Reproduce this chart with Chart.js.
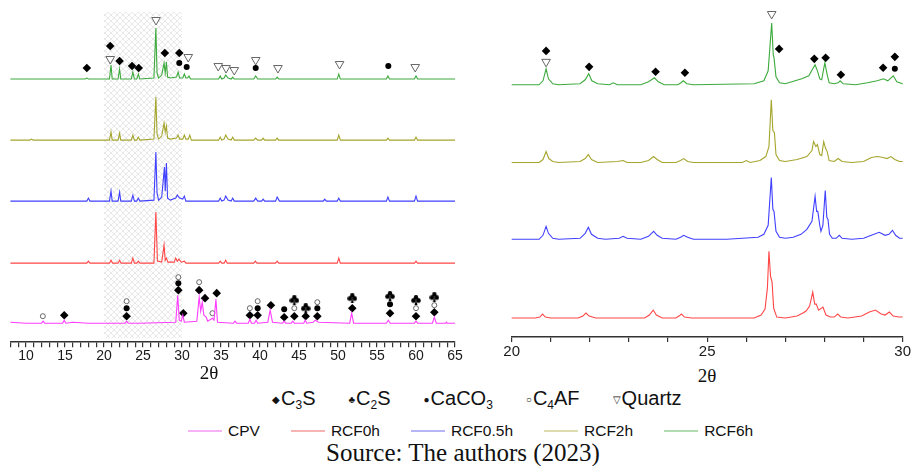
<!DOCTYPE html>
<html>
<head>
<meta charset="utf-8">
<script src="https://cdn.jsdelivr.net/npm/chart.js@4.4.1/dist/chart.umd.min.js"></script>
<style>
    body { margin: 0; background: #fff; }
    #page { position: relative; width: 912px; height: 466px; overflow: hidden; font-family: "Liberation Sans", Arial, sans-serif; color: #111; }
    canvas { position: absolute; top: 0; }
    #left { left: 0; }
    #right { left: 490px; }
    .axt { position: absolute; font-family: "Liberation Serif", "Times New Roman", serif; font-size: 19px; transform: translate(-50%, -50%); }
    #phases { position: absolute; left: 272px; top: 387px; font-size: 20px; display: flex; gap: 33px; white-space: nowrap; }
    #phases sub { font-size: 12px; vertical-align: -4px; }
    #phases .sym { font-size: 10px; margin-right: 1px; vertical-align: 2px; }
    #series { position: absolute; left: 188px; top: 422px; font-size: 15.5px; display: flex; gap: 31px; white-space: nowrap; }
    #series span { display: flex; align-items: center; }
    #series i { display: inline-block; width: 34px; height: 2px; margin-right: 6px; }
    #source { position: absolute; left: 0; width: 926px; text-align: center; top: 439px; font-family: "Liberation Serif", "Times New Roman", serif; font-size: 25px; }
</style>
</head>
<body>
<div id="page">
    <canvas id="left" width="470" height="366"></canvas>
    <canvas id="right" width="422" height="362"></canvas>
    <div class="axt" style="left:209px; top:373px;">2θ</div>
    <div class="axt" style="left:707px; top:376px;">2θ</div>
    <div id="phases">
        <span><span class="sym">◆</span>C<sub>3</sub>S</span>
        <span><span class="sym">♣</span>C<sub>2</sub>S</span>
        <span><span class="sym">●</span>CaCO<sub>3</sub></span>
        <span><span class="sym">○</span>C<sub>4</sub>AF</span>
        <span><span class="sym">▽</span>Quartz</span>
    </div>
    <div id="series"></div>
    <div id="source">Source: The authors (2023)</div>
</div>
<script>
// ---- tick labels ----
const leftTickLabels = [10, 15, 20, 25, 30, 35, 40, 45, 50, 55, 60, 65];
const rightTickLabels = [20, 25, 30];
const highlightRange = [20, 30];

// ---- series (2θ, intensity above own baseline, a.u.) ----
const seriesNames = ["CPV", "RCF0h", "RCF0.5h", "RCF2h", "RCF6h"];
const seriesColors = ["#ff3cff", "#ff4646", "#4040ff", "#a5a52e", "#3caa3c"];
const legendColors = ["#f7b2f7", "#f7b4b4", "#b6b6f7", "#dcdcae", "#b0dcb0"];
const leftOffsets = [19, 79, 141, 202, 263];
const rightOffsets = [19, 98, 175, 253];   // RCF0h .. RCF6h

const cpvWide = [[8,1],[10,0],[12.0,0],[12.2,2],[12.4,0],[14.7,0],[14.9,3],[15.1,0],[16,1],[18,0],[20,0],[22.7,0],[22.9,2],[23.1,0],[24.5,0],[29.2,1],[29.45,28],[29.65,3],[29.9,2],[30.1,8],[30.3,1],[31.9,2],[32.2,26],[32.4,12],[32.6,21],[32.8,8],[33.1,6],[33.3,2],[33.9,5],[34.1,3],[34.35,24],[34.55,1],[36.6,0],[36.8,2],[37,0],[38.5,0],[38.7,4],[38.9,0],[39.3,0],[39.5,3],[39.7,0],[41.0,1],[41.3,13],[41.6,1],[42.9,0],[43.1,2],[43.3,0],[44.0,0],[44.2,2],[44.4,0],[45.6,0],[45.8,3],[46.0,0],[46.8,1],[47.1,3],[47.5,1],[51.5,0],[51.75,10],[52.0,0],[56.2,0],[56.45,3],[56.7,0],[59.8,0],[60,2],[60.2,0],[62.1,0],[62.35,6],[62.6,0],[63.8,0],[63.9,1],[64,0],[65,0]];
const rcf0hWide = [[8,0],[17.8,0],[18.0,2],[18.2,0],[20.7,0],[20.9,3],[21.1,0],[21.8,0],[22.0,3],[22.2,0],[23.5,0],[23.7,5],[23.9,0],[24.2,0],[24.4,2],[24.6,0],[26.4,0],[26.65,51],[26.85,2],[27.4,1],[27.7,18],[27.85,3],[28.0,5],[28.2,1],[29.0,1],[29.2,5],[29.4,2],[29.6,4],[29.9,1],[30.3,2],[30.5,0],[34.7,0],[34.9,2],[35.1,0],[35.4,0],[35.6,3],[35.8,0],[39.2,0],[39.4,2],[39.6,0],[42.0,0],[42.2,2],[42.4,0],[49.9,0],[50.1,5],[50.3,0],[59.8,0],[60,2],[60.2,0],[65,0]];
const rcf05hWide = [[8,0],[17.8,0],[18.0,3],[18.2,0],[20.7,0],[20.9,10],[21.05,0],[21.8,0],[22.0,9],[22.15,0],[23.5,0],[23.7,6],[23.9,0],[24.2,0],[24.4,3],[24.6,0],[26.4,1],[26.65,49],[26.8,8],[27.0,1],[27.4,4],[27.75,34],[27.85,10],[28.0,38],[28.15,3],[28.5,1],[29.2,3],[29.4,6],[29.7,3],[30.1,2],[30.3,5],[30.5,0],[34.7,0],[34.9,3],[35.1,0],[35.4,1],[35.6,5],[35.9,1],[36.3,0],[36.5,3],[36.7,0],[39.2,0],[39.45,3],[39.7,0],[40.2,0],[40.4,2],[40.6,0],[42.0,0],[42.2,4],[42.5,0],[48.1,0],[48.3,2],[48.5,0],[49.9,0],[50.1,3],[50.3,0],[56.2,0],[56.4,4],[56.6,0],[59.8,0],[60,5],[60.2,0],[65,0]];
const rcf2hWide = [[8,0],[10.5,0],[10.7,1],[10.9,0],[20.7,0],[20.9,8],[21.05,0],[21.8,0],[22.0,7],[22.15,0],[23.5,0],[23.7,5],[23.9,0],[24.2,0],[24.4,3],[24.6,0],[26.4,1],[26.65,43],[26.8,6],[27.0,1],[27.4,4],[27.7,17],[27.85,8],[28.0,14],[28.15,2],[28.5,1],[29.3,2],[29.5,5],[29.7,1],[30.1,1],[30.3,5],[30.5,1],[30.8,1],[31.0,5],[31.2,0],[34.7,0],[34.9,3],[35.1,0],[35.4,1],[35.6,5],[35.9,1],[36.3,0],[36.5,3],[36.7,0],[39.2,0],[39.45,2],[39.7,0],[40.2,0],[40.4,2],[40.6,0],[42.0,0],[42.2,2],[42.4,0],[49.9,0],[50.1,5],[50.3,0],[56.2,0],[56.4,2],[56.6,0],[59.8,0],[60,3],[60.2,0],[65,0]];
const rcf6hWide = [[8,0],[17.6,0],[17.8,1],[18.0,0],[20.7,0],[20.9,14],[21.05,0],[21.8,0],[22.0,10],[22.15,0],[23.5,0],[23.7,7],[23.9,0],[24.2,0],[24.4,5],[24.6,0],[26.4,1],[26.65,51],[26.8,6],[27.0,1],[27.4,4],[27.7,16],[27.85,6],[28.0,17],[28.15,2],[28.5,1],[29.3,2],[29.5,7],[29.7,1],[30.1,1],[30.3,5],[30.5,1],[30.7,1],[30.9,3],[31.1,0],[34.7,0],[34.9,3],[35.1,0],[35.4,1],[35.6,4],[35.9,1],[36.3,0],[36.5,2],[36.7,0],[39.2,0],[39.45,3],[39.7,0],[42.0,0],[42.2,2],[42.4,0],[49.9,0],[50.1,5],[50.3,0],[56.2,0],[56.4,3],[56.6,0],[59.8,0],[60,3],[60.2,0],[65,0]];

const rcf0hZoom = [[20,0],[20.6,0],[20.72,1],[20.79,4],[20.86,1],[21.0,0],[21.7,0],[21.82,2],[21.9,5],[21.98,2],[22.15,0],[23.4,0],[23.52,3],[23.62,8],[23.7,3],[23.85,0],[24.2,0],[24.28,2],[24.34,4],[24.42,1],[24.6,0],[26.2,0],[26.38,3],[26.48,9],[26.54,30],[26.58,67],[26.62,42],[26.66,36],[26.7,10],[26.78,1],[27.0,0],[27.3,2],[27.45,5],[27.53,7],[27.62,12],[27.7,26],[27.75,14],[27.79,14],[27.85,8],[27.96,11],[28.04,3],[28.15,1],[28.25,1],[28.34,4],[28.42,1],[28.6,0],[28.95,2],[29.15,6],[29.3,8],[29.45,4],[29.55,3],[29.66,6],[29.76,2],[29.9,1],[30,1]];
const rcf05hZoom = [[20,0],[20.7,0],[20.8,4],[20.88,13],[20.94,6],[21.05,1],[21.2,0],[21.75,1],[21.88,6],[21.96,12],[22.04,5],[22.2,1],[22.4,0],[22.75,1],[22.85,3],[22.95,1],[23.3,0],[23.5,3],[23.63,8],[23.72,4],[23.85,1],[24.2,0],[24.32,2],[24.4,4],[24.5,2],[24.65,0],[25.5,0],[26.3,2],[26.45,5],[26.56,14],[26.64,62],[26.68,30],[26.71,28],[26.76,8],[26.85,2],[27.0,1],[27.2,2],[27.4,5],[27.55,10],[27.68,18],[27.76,43],[27.8,28],[27.83,28],[27.88,14],[27.91,8],[27.96,14],[28.02,49],[28.06,22],[28.09,20],[28.13,5],[28.2,1],[28.3,1],[28.38,4],[28.45,1],[28.7,0],[29.0,1],[29.2,4],[29.4,7],[29.55,4],[29.65,5],[29.74,9],[29.82,4],[29.92,1],[30,1]];
const rcf2hZoom = [[20,0],[20.7,0],[20.8,3],[20.88,11],[20.95,4],[21.05,1],[21.2,0],[21.75,1],[21.88,4],[21.96,8],[22.04,3],[22.2,0],[22.7,1],[22.85,2],[22.95,0],[23.3,0],[23.5,2],[23.63,6],[23.72,3],[23.85,0],[24.2,0],[24.32,2],[24.4,4],[24.5,1],[24.65,0],[25.9,0],[26.0,2],[26.1,0],[26.35,2],[26.5,6],[26.58,16],[26.64,63],[26.68,32],[26.72,30],[26.76,8],[26.85,2],[27.0,1],[27.3,3],[27.55,6],[27.68,12],[27.72,21],[27.78,16],[27.82,18],[27.88,8],[27.93,7],[27.98,21],[28.03,14],[28.07,11],[28.12,2],[28.25,1],[28.35,4],[28.45,1],[28.7,0],[29.0,1],[29.2,5],[29.35,6],[29.5,5],[29.6,4],[29.7,6],[29.8,3],[29.92,1],[30,1]];
const rcf6hZoom = [[20,0],[20.7,0],[20.8,4],[20.88,16],[20.94,6],[21.05,1],[21.2,0],[21.75,1],[21.88,5],[21.97,11],[22.05,4],[22.2,1],[22.5,0],[22.6,2],[22.7,0],[23.3,0],[23.5,3],[23.65,7],[23.75,3],[23.9,0],[24.25,0],[24.33,2],[24.39,4],[24.48,1],[24.65,0],[26.2,1],[26.45,4],[26.56,14],[26.65,62],[26.69,30],[26.71,27],[26.76,8],[26.85,2],[27.0,1],[27.25,4],[27.42,6],[27.6,9],[27.7,16],[27.76,20],[27.82,14],[27.88,6],[27.93,5],[27.97,14],[28.01,22],[28.07,10],[28.12,2],[28.25,1],[28.35,2],[28.4,4],[28.48,1],[28.8,0],[29.1,2],[29.35,4],[29.51,6],[29.62,4],[29.76,9],[29.85,3],[30,1]];

// ---- phase markers [2θ, level, phase]  D=C3S K=C2S C=CaCO3 O=C4AF Q=Quartz ----
const wideMarks = [
    [17.8,274,"D"],[20.8,296,"D"],[20.8,283,"Q"],[22.0,281,"D"],[23.6,276,"D"],[24.45,274,"D"],
    [26.67,322,"Q"],[27.8,289,"D"],[29.65,289,"D"],[29.65,279,"C"],[30.8,285,"Q"],[30.6,275,"C"],
    [34.65,276,"Q"],[35.65,274,"Q"],[36.7,272,"Q"],[39.45,282,"Q"],[39.45,274,"C"],[42.3,274,"Q"],
    [50.2,278,"Q"],[56.45,276,"C"],[59.9,275,"Q"],
    [12.16,26,"O"],[14.9,27,"D"],
    [22.9,41,"O"],[22.9,34,"C"],[22.9,26,"D"],
    [29.53,65,"O"],[29.53,59,"C"],[29.53,52,"D"],[30.17,29,"D"],
    [32.2,60,"O"],[32.2,52,"D"],[32.95,44,"D"],[33.9,29,"O"],[34.45,49,"D"],
    [38.7,34,"O"],[38.7,27,"D"],[39.7,41,"O"],[39.7,34,"C"],[39.7,27,"D"],[41.4,37,"D"],
    [43.1,33,"C"],[43.1,25,"D"],[44.4,42,"K"],[44.4,34,"O"],[44.4,26,"D"],
    [45.86,34,"K"],[45.86,26,"D"],[47.35,40,"O"],[47.35,34,"C"],[47.35,26,"D"],
    [51.83,44,"K"],[51.83,34,"D"],[56.67,46,"K"],[56.67,38,"C"],[56.67,29,"D"],
    [60.0,42,"K"],[60.0,34,"O"],[60.0,26,"D"],[62.35,45,"K"],[62.35,37,"O"],[62.35,30,"D"]
];
const zoomMarks = [
    [20.88,287,"D"],[20.88,276,"Q"],[21.98,271,"D"],[23.68,266,"D"],[24.43,265,"D"],
    [26.65,324,"Q"],[26.84,289,"D"],[27.74,279,"D"],[28.03,280,"D"],[28.42,263,"D"],
    [29.5,270,"D"],[29.8,281,"D"],[29.8,269,"C"]
];

function clubImage() {
    const c = document.createElement("canvas");
    c.width = 10; c.height = 10;
    const g = c.getContext("2d");
    g.fillStyle = "#000";
    [[5, 2.4], [2.5, 5.4], [7.5, 5.4]].forEach(([x, y]) => {
        g.beginPath(); g.arc(x, y, 2.3, 0, Math.PI * 2); g.fill();
    });
    g.beginPath(); g.moveTo(5, 4.5); g.lineTo(3.5, 10); g.lineTo(6.5, 10); g.closePath(); g.fill();
    return c;
}

const markStyles = {
    D: { pointStyle: "rectRot", pointRadius: 4.3, backgroundColor: "#000", borderColor: "#000", borderWidth: 0 },
    K: { pointStyle: clubImage(), pointRadius: 5 },
    C: { pointStyle: "circle", pointRadius: 3, backgroundColor: "#000", borderColor: "#000", borderWidth: 0 },
    O: { pointStyle: "circle", pointRadius: 2.5, backgroundColor: "#fff", borderColor: "#666", borderWidth: 1 },
    Q: { pointStyle: "triangle", pointRadius: 5, rotation: 180, backgroundColor: "#fff", borderColor: "#666", borderWidth: 1 }
};

function markDatasets(marks) {
    return Object.keys(markStyles).map(k => {
        const s = markStyles[k];
        return {
            data: marks.filter(m => m[2] === k).map(m => ({ x: m[0], y: m[1] })),
            showLine: false,
            pointStyle: s.pointStyle,
            pointRadius: s.pointRadius,
            pointRotation: s.rotation || 0,
            pointBackgroundColor: s.backgroundColor,
            pointBorderColor: s.borderColor,
            pointBorderWidth: s.borderWidth || 0,
            clip: false
        };
    });
}

function traceDataset(points, offset, color) {
    return {
        data: points.map(([x, h]) => ({ x, y: h + offset })),
        borderColor: color,
        borderWidth: 1.1,
        pointRadius: 0,
        tension: 0,
        clip: false
    };
}

// light crosshatch behind the 20-30° window of the wide scan
const hatchPlugin = {
    id: "hatch",
    beforeDatasetsDraw(chart, args, opts) {
        if (!opts.range) return;
        const { ctx, chartArea, scales } = chart;
        const tile = document.createElement("canvas");
        tile.width = 6; tile.height = 6;
        const t = tile.getContext("2d");
        t.strokeStyle = "#e2e2e2";
        t.lineWidth = 0.8;
        t.beginPath();
        t.moveTo(0, 0); t.lineTo(6, 6);
        t.moveTo(6, 0); t.lineTo(0, 6);
        t.stroke();
        const x0 = scales.x.getPixelForValue(opts.range[0]);
        const x1 = scales.x.getPixelForValue(opts.range[1]);
        ctx.save();
        ctx.fillStyle = ctx.createPattern(tile, "repeat");
        ctx.fillRect(x0, chartArea.top, x1 - x0, chartArea.bottom - chartArea.top - 4);
        ctx.restore();
    }
};

function axisOptions(min, max, labels, fontSize) {
    return {
        type: "linear",
        min, max,
        afterBuildTicks: axis => {
            axis.ticks = [];
            for (let v = Math.ceil(min); v <= max; v++) axis.ticks.push({ value: v });
        },
        ticks: {
            autoSkip: false,
            maxRotation: 0,
            padding: 1,
            color: "#1a1a1a",
            font: { family: "Liberation Sans", size: fontSize },
            callback: v => labels.includes(v) ? String(v) : ""
        },
        grid: { drawOnChartArea: false, tickLength: 5, color: "#333", lineWidth: 1.2 },
        border: { color: "#333", width: 1.5 }
    };
}

function baseOptions(padding, xAxis, yMax, range) {
    return {
        responsive: false,
        animation: false,
        layout: { padding },
        plugins: { legend: { display: false }, tooltip: { enabled: false }, hatch: { range } },
        scales: { x: xAxis, y: { display: false, min: 0, max: yMax } }
    };
}

// wide scan 8-65°
new Chart(document.getElementById("left"), {
    type: "line",
    data: {
        datasets: [
            traceDataset(cpvWide, leftOffsets[0], seriesColors[0]),
            traceDataset(rcf0hWide, leftOffsets[1], seriesColors[1]),
            traceDataset(rcf05hWide, leftOffsets[2], seriesColors[2]),
            traceDataset(rcf2hWide, leftOffsets[3], seriesColors[3]),
            traceDataset(rcf6hWide, leftOffsets[4], seriesColors[4]),
            ...markDatasets(wideMarks)
        ]
    },
    options: baseOptions({ left: 10.4, right: 15, top: 12, bottom: 0 }, axisOptions(8, 65, leftTickLabels, 14), 330, highlightRange),
    plugins: [hatchPlugin]
});

// detail 20-30°
new Chart(document.getElementById("right"), {
    type: "line",
    data: {
        datasets: [
            traceDataset(rcf0hZoom, rightOffsets[0], seriesColors[1]),
            traceDataset(rcf05hZoom, rightOffsets[1], seriesColors[2]),
            traceDataset(rcf2hZoom, rightOffsets[2], seriesColors[3]),
            traceDataset(rcf6hZoom, rightOffsets[3], seriesColors[4]),
            ...markDatasets(zoomMarks)
        ]
    },
    options: baseOptions({ left: 21.7, right: 9.3, top: 10, bottom: 0 }, axisOptions(20, 30, rightTickLabels, 15), 328, null),
    plugins: [hatchPlugin]
});

// series legend (pale line keys)
const seriesBox = document.getElementById("series");
seriesNames.forEach((name, i) => {
    const item = document.createElement("span");
    item.innerHTML = `<i style="background:${legendColors[i]}"></i>${name}`;
    seriesBox.appendChild(item);
});
</script>
</body>
</html>
